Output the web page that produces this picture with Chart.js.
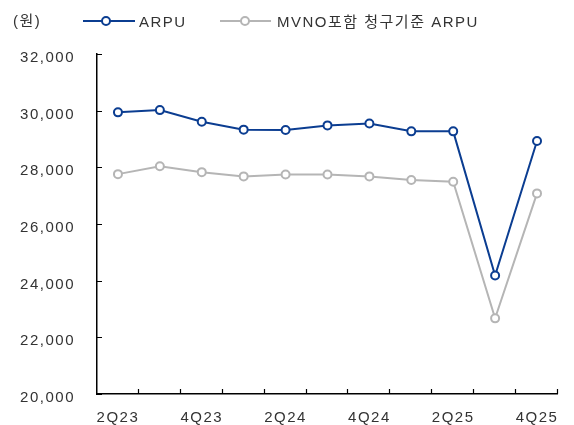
<!DOCTYPE html>
<html>
<head>
<meta charset="utf-8">
<script src="https://cdn.jsdelivr.net/npm/chart.js@4.4.1/dist/chart.umd.min.js"></script>
<style>
html, body { margin: 0; background: #fff; }
#wrap { width: 574px; height: 425px; position: relative; }
</style>
</head>
<body>
<div id="wrap"><canvas id="arpuChart"></canvas></div>
<script>
const quarters = ["2Q23","3Q23","4Q23","1Q24","2Q24","3Q24","4Q24","1Q25","2Q25","3Q25","4Q25"];
const arpu = [29940, 30020, 29610, 29330, 29320, 29480, 29550, 29270, 29270, 24180, 28930];
const mvnoArpu = [27760, 28040, 27830, 27680, 27750, 27750, 27680, 27550, 27490, 22670, 27080];
const unitLabel = "(원)";
const seriesNames = ["ARPU", "MVNO포함 청구기준 ARPU"];

const blue = "#0b3d91";
const grey = "#b5b5b5";
const textColor = "#333";
const fontFam = "'Liberation Sans', Arial, 'Noto Sans CJK KR', sans-serif";

// letter spacing like the original (Korean report fonts run wide)
const spacing = {
  id: "spacing",
  beforeUpdate(chart) { chart.ctx.letterSpacing = "1.5px"; },
  beforeDraw(chart) { chart.ctx.letterSpacing = "1.5px"; }
};

// ticks pointing inward, and the custom legend on top
const extras = {
  id: "extras",
  afterDraw(chart) {
    const ctx = chart.ctx;
    const y = chart.scales.y;
    const area = chart.chartArea;
    ctx.save();
    ctx.strokeStyle = "#000";
    ctx.lineWidth = 1.2;
    ctx.beginPath();
    y.ticks.forEach(t => {
      const py = Math.round(y.getPixelForValue(t.value)) + 0.5;
      ctx.moveTo(area.left, py);
      ctx.lineTo(area.left + 5, py);
    });
    const step = (area.right - area.left) / quarters.length;
    for (let i = 1; i <= quarters.length; i++) {
      const px = Math.round(area.left + step * i) - 0.5;
      ctx.moveTo(px, area.bottom);
      ctx.lineTo(px, area.bottom - 5);
    }
    ctx.stroke();

    ctx.font = "15px " + fontFam;
    ctx.fillStyle = textColor;
    ctx.textBaseline = "middle";
    ctx.letterSpacing = "1.5px";
    ctx.fillText(unitLabel, 13, 22);

    const items = [
      { x0: 83, x1: 135, mx: 106, tx: 139, color: blue, name: seriesNames[0] },
      { x0: 220, x1: 271, mx: 245, tx: 277, color: grey, name: seriesNames[1] }
    ];
    const ly = 21;
    items.forEach(it => {
      ctx.strokeStyle = it.color;
      ctx.lineWidth = 2;
      ctx.beginPath();
      ctx.moveTo(it.x0, ly);
      ctx.lineTo(it.x1, ly);
      ctx.stroke();
      ctx.beginPath();
      ctx.arc(it.mx, ly, 4, 0, Math.PI * 2);
      ctx.fillStyle = "#fff";
      ctx.fill();
      ctx.stroke();
      ctx.fillStyle = textColor;
      ctx.fillText(it.name, it.tx, ly + 2);
    });
    ctx.restore();
  }
};

new Chart(document.getElementById("arpuChart"), {
  type: "line",
  data: {
    labels: quarters,
    datasets: [
      {
        label: seriesNames[1],
        data: mvnoArpu,
        borderColor: grey,
        backgroundColor: "#fff",
        borderWidth: 2,
        pointRadius: 4,
        pointBorderWidth: 2,
        pointBackgroundColor: "#fff",
        pointBorderColor: grey,
        tension: 0,
        fill: false
      },
      {
        label: seriesNames[0],
        data: arpu,
        borderColor: blue,
        backgroundColor: "#fff",
        borderWidth: 2,
        pointRadius: 4,
        pointBorderWidth: 2,
        pointBackgroundColor: "#fff",
        pointBorderColor: blue,
        tension: 0,
        fill: false
      }
    ]
  },
  options: {
    responsive: true,
    maintainAspectRatio: false,
    animation: false,
    devicePixelRatio: 1,
    layout: { padding: { top: 54, right: 14, left: 0, bottom: 0 } },
    plugins: { legend: { display: false }, tooltip: { enabled: false } },
    scales: {
      x: {
        offset: true,
        grid: { display: false, drawTicks: false },
        border: { display: true, color: "#000", width: 1.5 },
        ticks: {
          autoSkip: false,
          maxRotation: 0,
          padding: 15,
          color: textColor,
          font: { size: 15, family: fontFam },
          callback: (v, i) => (i % 2 === 0 ? quarters[i] : "")
        },
        afterFit: s => { s.height = 31; }
      },
      y: {
        min: 20000,
        max: 32000,
        grid: { display: false, drawTicks: false },
        border: { display: true, color: "#000", width: 1.5 },
        ticks: {
          stepSize: 2000,
          padding: 22,
          labelOffset: 4,
          color: textColor,
          font: { size: 15, family: fontFam },
          callback: v => v.toLocaleString("en-US")
        },
        afterFit: s => { s.width = 97; }
      }
    }
  },
  plugins: [spacing, extras]
});
</script>
</body>
</html>
